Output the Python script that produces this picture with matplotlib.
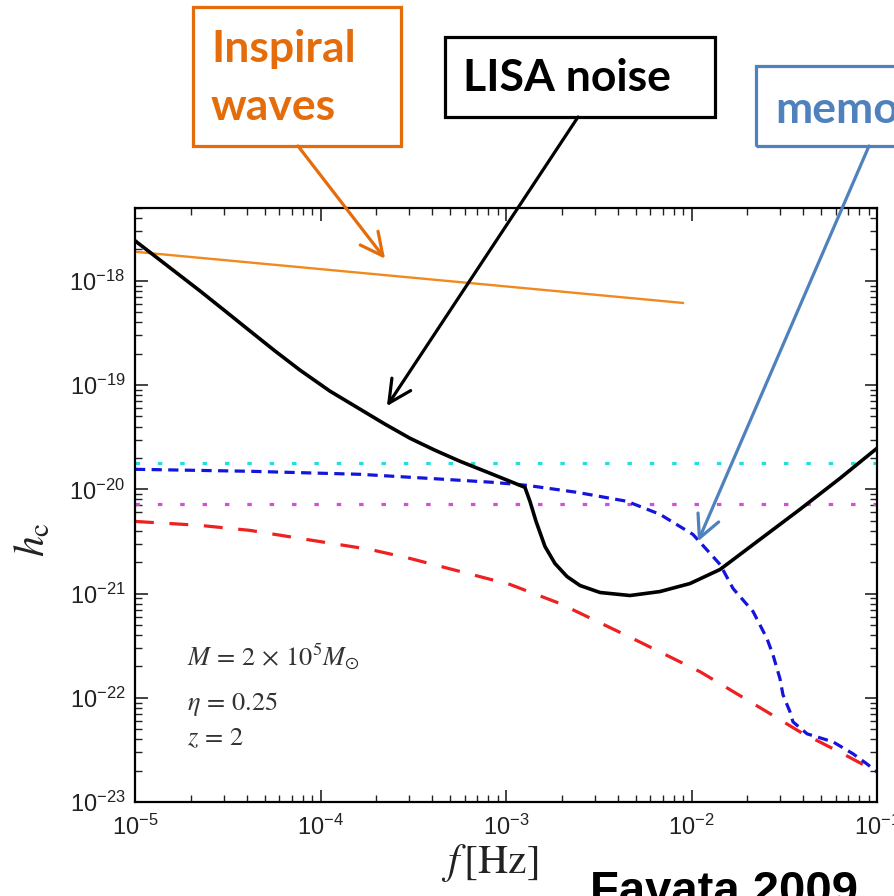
import numpy as np
import matplotlib
matplotlib.use("Agg")
import matplotlib.pyplot as plt
from matplotlib.patches import Rectangle

plt.rcParams["font.family"] = ["Liberation Sans", "DejaVu Sans"]
plt.rcParams["mathtext.fontset"] = "custom"
plt.rcParams["mathtext.rm"] = "Liberation Sans"
plt.rcParams["mathtext.it"] = "Liberation Sans:italic"

W, H = 895, 896

# ---- curves as log10(f [Hz]) / log10(h_c) ----
noise_logf = [-5.000, -4.811, -4.650, -4.515, -4.380, -4.245, -4.111, -3.949, -3.787,
              -3.652, -3.518, -3.383, -3.248, -3.086, -2.898, -2.871, -2.838, -2.790,
              -2.736, -2.671, -2.601, -2.493, -2.332, -2.170, -2.008, -1.846, -1.631,
              -1.415, -1.199, -1.000]
noise_logh = [-17.615, -17.875, -18.096, -18.288, -18.481, -18.673, -18.856, -19.058,
              -19.231, -19.375, -19.510, -19.625, -19.731, -19.846, -19.981, -20.115,
              -20.308, -20.548, -20.712, -20.837, -20.923, -20.990, -21.019, -20.981,
              -20.904, -20.769, -20.481, -20.192, -19.894, -19.606]

memory_logf = [-5.000, -4.380, -3.787, -3.426, -3.070, -2.887, -2.617, -2.348, -2.170,
               -1.992, -1.846, -1.776, -1.668, -1.593, -1.561, -1.523, -1.507, -1.469,
               -1.453, -1.377, -1.237, -1.129, -1.054, -1.000]
memory_logh = [-19.808, -19.827, -19.856, -19.894, -19.933, -19.962, -20.029, -20.115,
               -20.240, -20.433, -20.721, -20.952, -21.173, -21.433, -21.587, -21.817,
               -21.971, -22.135, -22.231, -22.346, -22.423, -22.538, -22.635, -22.712]

red_logf = [-5.000, -4.650, -4.380, -4.111, -3.733, -3.518, -2.978, -2.709, -2.315,
            -1.954, -1.593, -1.415, -1.183, -1.000]
red_logh = [-20.308, -20.346, -20.394, -20.471, -20.577, -20.663, -20.913, -21.096,
            -21.433, -21.750, -22.135, -22.327, -22.538, -22.712]

inspiral_logf = [-5.000, -2.046]
inspiral_logh = [-17.721, -18.212]

cyan_level = 10**-19.75      # flat dotted levels
magenta_level = 10**-20.144

XLIM = (1e-5, 1e-1)
YLIM = (1e-23, 5e-18)

# arrow tips (data) for the callouts
tip_inspiral = (10**-3.652, 10**-17.788)
tip_noise = (10**-3.642, 10**-19.202)
tip_memory = (10**-1.965, 10**-20.50)


def fx(px):  # pixel x -> figure fraction
    return px / W


def fy(py):  # pixel y (from top) -> figure fraction
    return 1 - py / H


fig = plt.figure(figsize=(W / 100, H / 100), dpi=100)
ax = fig.add_axes([fx(135), fy(802), fx(877) - fx(135), fy(208) - fy(802)])
ax.set_xscale("log"); ax.set_yscale("log")

p = lambda a: 10**np.asarray(a)
ax.plot(XLIM, [cyan_level] * 2, color="#22dede", lw=2.3, dashes=(1.4, 5.6))
ax.plot(XLIM, [magenta_level] * 2, color="#d94cd9", lw=2.3, dashes=(1.4, 5.6))
ax.plot(p(red_logf), p(red_logh), color="#ee2020", lw=2.3, dashes=(5.9, 4.9))
ax.plot(p(memory_logf), p(memory_logh), color="#1414dc", lw=2.3, dashes=(3.2, 2.0))
ax.plot(p(inspiral_logf), p(inspiral_logh), color="#f08a1e", lw=1.7)
ax.plot(p(noise_logf), p(noise_logh), color="black", lw=2.6, solid_joinstyle="round")

ax.set_xlim(*XLIM); ax.set_ylim(*YLIM)
ax.tick_params(which="both", direction="in", top=True, right=True, labelsize=17, colors="#222222")
ax.tick_params(which="major", length=9, width=1.2)
ax.tick_params(which="minor", length=5, width=1.0)
ax.tick_params(axis="x", pad=9)
ax.tick_params(axis="y", pad=7)
for s in ax.spines.values():
    s.set_linewidth(1.6)

ax.set_xlabel(r"$f\,[{\rm Hz}]$", fontsize=30, math_fontfamily="stix", color="#222222")
ax.xaxis.set_label_coords(0.478, -0.068)
ax.set_ylabel(r"$h_{\rm c}$", fontsize=30, math_fontfamily="stix", color="#222222")
ax.yaxis.set_label_coords(-0.11, 0.442)

pcol = "#333333"
params = [(665, r"$M\,=\,2\,\times\,10^5 M_{\odot}$"),
          (710, r"$\eta\,=\,0.25$"),
          (745, r"$z\,=\,2$")]
for ypx, s in params:
    ax.text(fx(187), fy(ypx), s, transform=fig.transFigure,
            fontsize=19, math_fontfamily="stix", color=pcol, va="baseline")

# ---- callout boxes and arrows ----
ORANGE, BLUE = "#e46c0a", "#4f81bd"
boxes = [((193, 7, 401, 146), ORANGE), ((445, 37, 715, 117), "black"),
         ((756, 66, 930, 146), BLUE)]
for (x0, y0, x1, y1), c in boxes:
    fig.add_artist(Rectangle((fx(x0), fy(y1)), fx(x1) - fx(x0), fy(y0) - fy(y1),
                             transform=fig.transFigure, fill=False, ec=c, lw=2.3))

box_font = dict(family=["Lato", "DejaVu Sans"], weight="bold", fontsize=32, va="baseline")
fig.text(fx(211), fy(62), "Inspiral", color=ORANGE, **box_font)
fig.text(fx(211), fy(120), "waves", color=ORANGE, **box_font)
fig.text(fx(463), fy(91), "LISA noise", color="black", **box_font)
fig.text(fx(775), fy(123), "memory", color=BLUE, **box_font)

for tip, start, c in [(tip_inspiral, (298, 146), ORANGE),
                      (tip_noise, (578, 117), "black"),
                      (tip_memory, (869, 146), BLUE)]:
    ax.annotate("", xy=tip, xycoords="data",
                xytext=(fx(start[0]), fy(start[1])), textcoords="figure fraction",
                arrowprops=dict(arrowstyle="->,head_length=0.9,head_width=0.45",
                                color=c, lw=2.3, mutation_scale=18,
                                shrinkA=0, shrinkB=0),
                annotation_clip=False)

fig.text(fx(590), fy(904), "Favata 2009", family=["Liberation Sans", "DejaVu Sans"],
         weight="bold", fontsize=34, color="black", va="baseline")

fig.savefig("out.png", dpi=100)
